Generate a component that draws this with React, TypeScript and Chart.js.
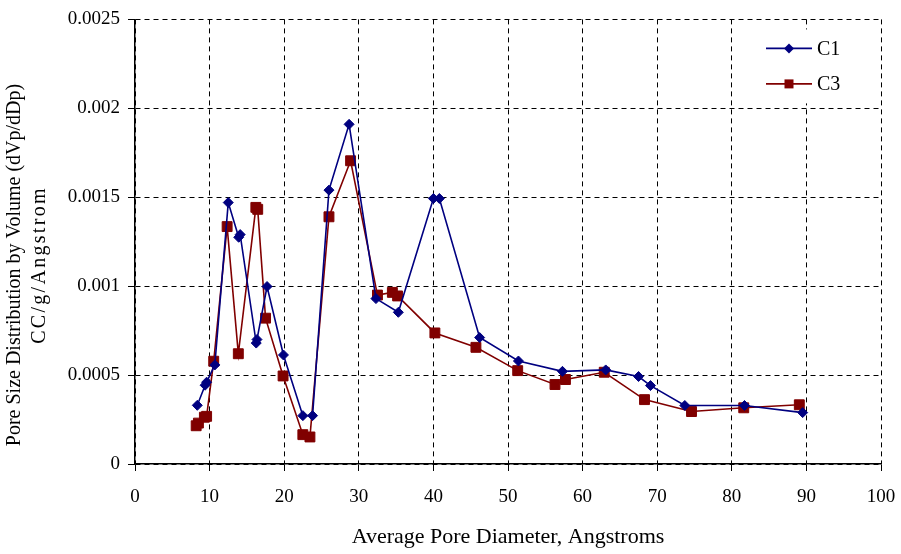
import React, { useEffect, useRef } from "react";
import { Chart, registerables } from "chart.js";

Chart.register(...registerables);

const c1X = [8.35, 9.4, 9.6, 10.7, 12.5, 13.9, 14.1, 16.25, 16.35, 17.7, 19.9, 22.5, 23.8, 26.0, 28.7, 32.3, 35.3, 40.0, 40.8, 46.2, 51.4, 57.3, 63.1, 67.5, 69.1, 73.7, 81.7, 89.5];
const c1Y = [0.00033, 0.000443, 0.00046, 0.000557, 0.00147, 0.001275, 0.00129, 0.00068, 0.0007, 0.000998, 0.000613, 0.000272, 0.000272, 0.00154, 0.00191, 0.00093, 0.000853, 0.001493, 0.001493, 0.000711, 0.000579, 0.000521, 0.000529, 0.000492, 0.000441, 0.000329, 0.000329, 0.000289];

const c3X = [8.2, 8.5, 9.3, 9.6, 10.55, 12.35, 13.85, 16.2, 16.45, 17.5, 19.85, 22.5, 23.45, 26.0, 28.9, 32.5, 34.5, 35.2, 40.2, 45.7, 51.3, 56.3, 57.7, 62.9, 68.3, 74.6, 81.6, 89.05];
const c3Y = [0.000215, 0.00023, 0.000263, 0.000268, 0.000578, 0.001335, 0.00062, 0.001443, 0.001432, 0.00082, 0.000495, 0.000165, 0.000152, 0.00139, 0.001705, 0.00095, 0.000965, 0.000945, 0.000737, 0.000656, 0.000525, 0.000447, 0.000475, 0.000516, 0.000362, 0.000295, 0.000316, 0.000333];

const seriesNames = ["C1", "C3"];
const xTitle = "Average Pore Diameter, Angstroms";
const yTitle = ["Pore Size Distribution by Volume (dVp/dDp)", "CC/g/Angstrom"];
const xMin = 0, xMax = 100, xStep = 10;
const yMin = 0, yMax = 0.0025, yStep = 0.0005;

const BLUE = "#000080";
const RED = "#800000";
const FONT = "'Liberation Serif', 'Times New Roman', serif";

const yTitlePlugin = {
  id: "yTitleLines",
  afterDraw(chart: any) {
    const ctx = chart.ctx;
    const cy = 265;
    const xs = [15, 40];
    const spacing = ["0px", "2.3px"];
    ctx.save();
    ctx.fillStyle = "#000";
    ctx.font = `20px ${FONT}`;
    ctx.textAlign = "center";
    ctx.textBaseline = "middle";
    yTitle.forEach((t, i) => {
      ctx.save();
      (ctx as any).letterSpacing = spacing[i];
      ctx.translate(xs[i], cy);
      ctx.rotate(-Math.PI / 2);
      ctx.fillText(t, 0, 0);
      ctx.restore();
    });
    ctx.restore();
  },
};

const legendPlugin = {
  id: "insideLegend",
  afterDraw(chart: any) {
    const ctx = chart.ctx;
    const area = chart.chartArea;
    const bx = area.right - 136;
    const by = area.top + 10;
    ctx.save();
    ctx.fillStyle = "#fff";
    ctx.fillRect(bx, by, 110, 74);
    chart.data.datasets.forEach((ds: any, i: number) => {
      const y = by + 19 + i * 35.5;
      const x0 = bx + 21;
      const x1 = x0 + 46;
      ctx.strokeStyle = ds.borderColor;
      ctx.lineWidth = ds.borderWidth;
      ctx.beginPath();
      ctx.moveTo(x0, y);
      ctx.lineTo(x1, y);
      ctx.stroke();
      const cx = (x0 + x1) / 2;
      ctx.fillStyle = ds.pointBackgroundColor;
      ctx.beginPath();
      if (ds.pointStyle === "rectRot") {
        const r = 5;
        ctx.moveTo(cx - r, y);
        ctx.lineTo(cx, y - r);
        ctx.lineTo(cx + r, y);
        ctx.lineTo(cx, y + r);
        ctx.closePath();
      } else {
        ctx.rect(cx - 4.5, y - 4.5, 9, 9);
      }
      ctx.fill();
      ctx.fillStyle = "#000";
      ctx.font = `20px ${FONT}`;
      ctx.textBaseline = "middle";
      ctx.textAlign = "left";
      ctx.fillText(ds.label, x1 + 5, y + 1);
    });
    ctx.restore();
  },
};

export default function App() {
  const ref = useRef<HTMLCanvasElement | null>(null);
  useEffect(() => {
    if (!ref.current) return;
    const chart = new Chart(ref.current, {
      type: "scatter",
      data: {
        datasets: [
          {
            label: seriesNames[0],
            data: c1X.map((x, i) => ({ x, y: c1Y[i] })),
            showLine: true,
            borderColor: BLUE,
            backgroundColor: BLUE,
            pointBackgroundColor: BLUE,
            pointBorderColor: BLUE,
            borderWidth: 1.6,
            pointStyle: "rectRot",
            pointRadius: 5,
            pointBorderWidth: 1,
          },
          {
            label: seriesNames[1],
            data: c3X.map((x, i) => ({ x, y: c3Y[i] })),
            showLine: true,
            borderColor: RED,
            backgroundColor: RED,
            pointBackgroundColor: RED,
            pointBorderColor: RED,
            borderWidth: 1.6,
            pointStyle: "rect",
            pointRadius: 7,
            pointBorderWidth: 1,
          },
        ],
      },
      options: {
        animation: false,
        responsive: false,
        maintainAspectRatio: false,
        layout: { autoPadding: false, padding: { left: 0, right: 20, top: 18, bottom: 0 } },
        plugins: {
          legend: { display: false },
          tooltip: { enabled: false },
        },
        scales: {
          x: {
            type: "linear",
            min: xMin,
            max: xMax,
            ticks: { stepSize: xStep, color: "#000", font: { family: FONT, size: 19 }, padding: 15, maxRotation: 0 },
            grid: { color: "#000", lineWidth: 1, tickLength: 7, tickColor: "#000", tickBorderDash: [] } as any,
            border: { display: true, color: "#000", width: 1.5, dash: [5, 4] },
            title: { display: true, text: xTitle, color: "#000", font: { family: FONT, size: 22, lineHeight: "20px" } as any, padding: { top: 0, bottom: 7 } },
            afterFit: (s: any) => { s.height = 90; s.paddingRight = 0; s.paddingLeft = 0; },
          },
          y: {
            type: "linear",
            min: yMin,
            max: yMax,
            ticks: {
              stepSize: yStep,
              color: "#000",
              font: { family: FONT, size: 19 },
              padding: 8,
              callback: (v: any) => String(Number(v.toFixed(6))),
            },
            grid: { color: "#000", lineWidth: 1, tickLength: 7, tickColor: "#000", tickBorderDash: [] } as any,
            border: { display: true, color: "#000", width: 1.5, dash: [5, 4] },
            title: { display: false },
            afterFit: (s: any) => { s.width = 135; },
          },
        },
      },
      plugins: [legendPlugin, yTitlePlugin],
    });
    return () => chart.destroy();
  }, []);
  return (
    <div style={{ position: "fixed", left: 0, top: 0, width: 901, height: 554, background: "#fff" }}>
      <canvas ref={ref} width={901} height={554} style={{ width: 901, height: 554, display: "block" }} />
    </div>
  );
}
